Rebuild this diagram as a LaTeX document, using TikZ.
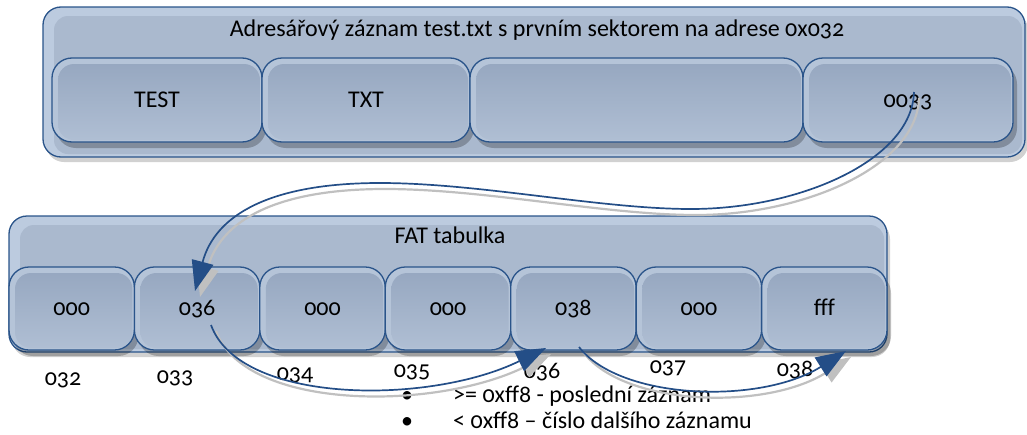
\documentclass[tikz,border=0pt]{standalone}
\usepackage{fontspec}
\setmainfont{Carlito}[Numbers=OldStyle]
\usetikzlibrary{arrows.meta,shadows}

\definecolor{edge}{RGB}{42,84,138}
\definecolor{rim}{RGB}{188,203,223}
\definecolor{panel}{RGB}{170,185,206}
\definecolor{celltop}{RGB}{149,166,191}
\definecolor{cellbot}{RGB}{176,191,212}
\definecolor{link}{RGB}{36,78,135}
\definecolor{linkgray}{RGB}{192,192,192}

\tikzset{
  txt/.style={font=\fontsize{24}{28}\selectfont, inner sep=0pt},
  panelbox/.style={draw=edge, line width=1.3pt, fill=rim, rounded corners=18pt, inner sep=0pt,
    drop shadow={shadow xshift=3pt, shadow yshift=-5pt, fill=black, opacity=0.18},
    path picture={\fill[panel, rounded corners=14pt]
      ([shift={(11,9)}]path picture bounding box.north west) rectangle
      ([shift={(-3,-3)}]path picture bounding box.south east);}},
  cell/.style={txt, draw=edge, line width=1.3pt, fill=rim!60!panel, rounded corners=20pt,
    text height=16pt, text depth=2pt,
    drop shadow={shadow xshift=4pt, shadow yshift=-6pt, fill=black, opacity=0.24},
    path picture={\fill[top color=celltop, bottom color=cellbot, rounded corners=16pt]
      ([shift={(6,6)}]path picture bounding box.north west) rectangle
      ([shift={(-2,-2)}]path picture bounding box.south east);}},
  dircell/.style={cell, minimum height=84pt},
  fatcell/.style={cell, minimum height=83pt, minimum width=125.4pt},
  link/.style={draw=link, line width=1.7pt,
    -{Triangle[length=30pt,width=22pt,fill=link]}},
  linkshade/.style={draw=linkgray, line width=2.2pt,
    -{Triangle[length=30pt,width=22pt,fill=linkgray]},
    transform canvas={shift={(5,6)}}},
}

\begin{document}
\begin{tikzpicture}[x=1pt,y=-1pt]
\useasboundingbox (0,0) rectangle (1027,434);

% directory entry
\node[panelbox, minimum width=982pt, minimum height=150pt] (dir) at (534,82) {};
\node[txt, anchor=base] (dirtitle) at (537,36) {Adresářový záznam test.txt s prvním sektorem na adrese 0x032};
\node[dircell, minimum width=210pt] (d1) at (157,100) {TEST};
\node[dircell, minimum width=208pt] (d2) at (366,100) {TXT};
\node[dircell, minimum width=333pt] (d3) at (636.5,100) {};
\node[dircell, minimum width=210pt] (d4) at (908,100) {0033};

% FAT table
\node[panelbox, minimum width=878pt, minimum height=136pt] (fat) at (448,284) {};
\node[txt, anchor=base] (fattitle) at (450,243) {FAT tabulka};
\node[fatcell] (f1) at (71.7,308.5) {000};
\node[fatcell] (f2) at (197.1,308.5) {036};
\node[fatcell] (f3) at (322.5,308.5) {000};
\node[fatcell] (f4) at (448,308.5) {000};
\node[fatcell] (f5) at (573.4,308.5) {038};
\node[fatcell] (f6) at (698.9,308.5) {000};
\node[fatcell] (f7) at (824.3,308.5) {fff};

% cluster numbers
\node[txt, anchor=base] (n32) at (63,385) {032};
\node[txt, anchor=base] (n33) at (175,383) {033};
\node[txt, anchor=base] (n34) at (295,380) {034};
\node[txt, anchor=base] (n35) at (412,377) {035};
\node[txt, anchor=base] (n36) at (542,378) {036};
\node[txt, anchor=base] (n37) at (668,373) {037};
\node[txt, anchor=base] (n38) at (795,376) {038};

% legend
\node[txt, anchor=base] (bul1) at (407,402) {•};
\node[txt, anchor=base west] (leg1) at (453,402) {>= 0xff8 - poslední záznam};
\node[txt, anchor=base] (bul2) at (407,428) {•};
\node[txt, anchor=base west] (leg2) at (453,428) {< 0xff8 – číslo dalšího záznamu};

% chain of clusters
\coordinate (p0) at (914,92);
\coordinate (p1) at (691,209);
\coordinate (p2) at (380,183);
\coordinate (p3) at (195,291);
\coordinate (q0) at (211,325);
\coordinate (q1) at (546,348);
\coordinate (r0) at (579,347);
\coordinate (r1) at (846,351);

\foreach \st in {linkshade, link} {
  \draw[\st] (p0) .. controls (912,160) and (800,209) .. (p1)
             .. controls (600,209) and (480,183) .. (p2)
             .. controls (270,183) and (215,215) .. (p3);
  \draw[\st] (q0) .. controls (240,405) and (430,405) .. (q1);
  \draw[\st] (r0) .. controls (620,400) and (760,405) .. (r1);
}
\end{tikzpicture}
\end{document}
